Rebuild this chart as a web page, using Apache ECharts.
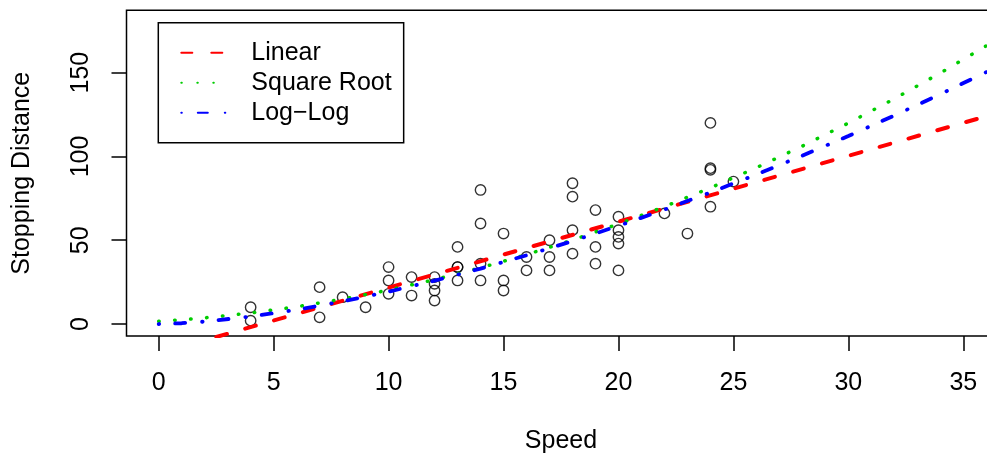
<!DOCTYPE html>
<html>
<head>
<meta charset="utf-8">
<script src="https://cdn.jsdelivr.net/npm/echarts@6/dist/echarts.min.js"></script>
<style>html,body{margin:0;padding:0;background:#fff}#c{width:987px;height:454px}</style>
</head>
<body>
<div id="c"></div>
<script>
// Observed data (cars)
const speed = [4,4,7,7,8,9,10,10,10,11,11,12,12,12,12,13,13,13,13,14,14,14,14,15,15,15,16,16,17,17,17,18,18,18,18,19,19,19,20,20,20,20,20,22,23,24,24,24,24,25];
const dist = [2,10,4,22,16,10,18,26,34,17,28,14,20,24,28,26,34,34,46,26,36,60,80,20,26,54,32,40,32,40,50,42,56,76,84,36,46,68,32,48,52,56,64,66,54,70,92,93,120,85];

// Fitted curves
const linearX = [0, 37];
const linearY = [-17.58, 127.91];
const curveX = [0,1,2,4,6,8,10,12,14,16,18,20,22,24,26,28,30,32,34,36,37];
const sqrtY = [1.63,2.56,3.69,6.59,10.31,14.87,20.26,26.48,33.53,41.42,50.13,59.68,70.06,81.27,93.31,106.18,119.89,134.43,149.79,165.99,174.40];
const loglogY = [0,0.48,1.46,4.45,8.51,13.50,19.30,25.85,33.09,40.99,49.50,58.60,68.28,78.50,89.22,100.48,112.22,124.43,137.16,150.32,157.07];

const xTicks = [0,5,10,15,20,25,30,35];
const yTicks = [0,50,100,150];
const seriesNames = ['Linear','Square Root','Log\u2212Log'];

const FONT = '"Liberation Sans", Arial, Helvetica, sans-serif';
const chart = echarts.init(document.getElementById('c'), null, {renderer:'canvas'});
const pair = (xs, ys) => xs.map((x,i)=>[x, ys[i]]);

chart.setOption({
  animation: false,
  textStyle: {fontFamily: FONT, color:'#000'},
  grid: {left:126.5, right:-8.5, top:10.3, bottom:117.9, show:true, borderColor:'#000', borderWidth:1.5,
         backgroundColor:'transparent', containLabel:false, outerBoundsMode:'none'},
  legend: {
    orient:'vertical', left:158.3, top:22.7, padding:[15,12,15,22], itemGap:0,
    itemWidth:47, itemHeight:14, borderColor:'#000', borderWidth:1.5, borderRadius:0,
    itemStyle:{opacity:0, color:'transparent', borderWidth:0},
    textStyle:{fontSize:25, fontFamily:FONT, color:'#000', lineHeight:30, padding:[0,0,0,18]},
    data: seriesNames, selectedMode:false
  },
  xAxis: {
    type:'value', min:-1.4, max:36.4,
    axisLine:{show:false, onZero:false}, splitLine:{show:false},
    axisTick:{show:true, inside:false, length:15, customValues:xTicks, lineStyle:{color:'#000', width:1.5}},
    axisLabel:{show:true, customValues:xTicks, margin:35, fontSize:25, color:'#000', fontFamily:FONT},
    name:'Speed', nameLocation:'middle', nameGap:93,
    nameTextStyle:{fontSize:25, color:'#000', fontFamily:FONT}
  },
  yAxis: {
    type:'value', min:-7.2, max:187.2,
    axisLine:{show:false, onZero:false}, splitLine:{show:false},
    axisTick:{show:true, inside:false, length:15, customValues:yTicks, lineStyle:{color:'#000', width:1.5}},
    axisLabel:{show:true, customValues:yTicks, rotate:90, margin:33, fontSize:25, color:'#000', fontFamily:FONT},
    name:'Stopping Distance', nameLocation:'middle', nameGap:92, nameRotate:90,
    nameTextStyle:{fontSize:25, color:'#000', fontFamily:FONT}
  },
  series: [
    {type:'scatter', data: pair(speed, dist), symbol:'circle', symbolSize:10.4,
     itemStyle:{color:'transparent', borderColor:'#000', borderWidth:1.4}, emphasis:{disabled:true}, silent:true},
    {type:'line', name:seriesNames[0], data: pair(linearX, linearY), showSymbol:false, symbol:'none',
     lineStyle:{color:'#ff0000', width:4, type:[11,19], cap:'round'}, itemStyle:{color:'#ff0000'}, silent:true},
    {type:'line', name:seriesNames[1], data: pair(curveX, sqrtY), showSymbol:false, symbol:'none',
     lineStyle:{color:'#00cd00', width:3.5, type:[0.5,15.5], cap:'round'}, itemStyle:{color:'#00cd00'}, silent:true},
    {type:'line', name:seriesNames[2], data: pair(curveX, loglogY), showSymbol:false, symbol:'none',
     lineStyle:{color:'#0000ff', width:3.8, type:[0.5,16,10,17], cap:'round'}, itemStyle:{color:'#0000ff'}, silent:true}
  ]
});
</script>
</body>
</html>
